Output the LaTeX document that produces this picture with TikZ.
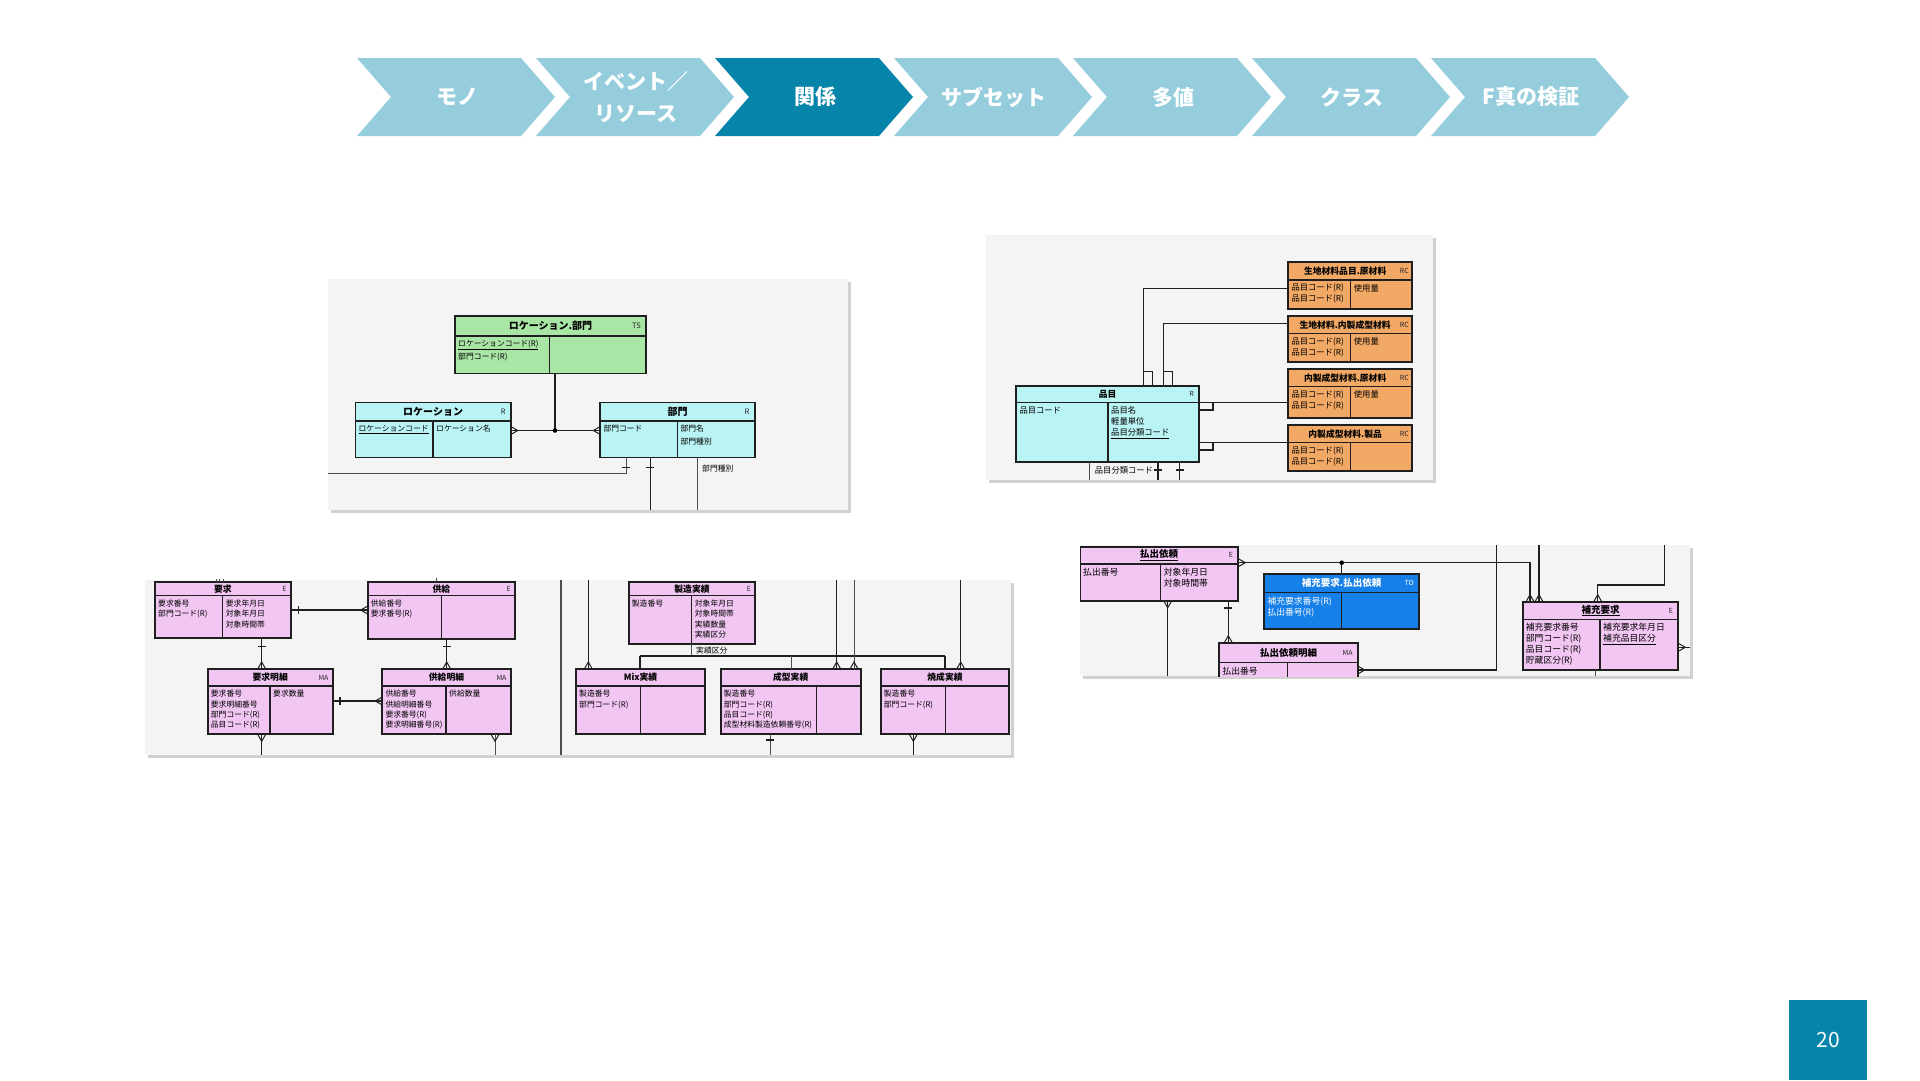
\documentclass[tikz,border=0pt]{standalone}
\usepackage{fontspec}
\setmainfont{Noto Sans CJK JP}

\definecolor{steplight}{HTML}{95CDDD}
\definecolor{stepdark}{HTML}{0784A9}
\definecolor{panelbg}{HTML}{F4F4F4}
\definecolor{entpink}{HTML}{F2C6F2}
\definecolor{entcyan}{HTML}{BAF3F3}
\definecolor{entgreen}{HTML}{A9E5A5}
\definecolor{entorange}{HTML}{F2A966}
\definecolor{entblue}{HTML}{1780E8}

\tikzset{
  steplabel/.style={text=white, align=center, font=\fontsize{21}{32}\selectfont\bfseries},
  entbox/.style={draw=black!88, line width=1.7pt, anchor=north west, inner sep=0pt, outer sep=0pt},
  entsep/.style={black!88, line width=1.1pt},
  enttitle/.style={inner sep=0pt, font=\fontsize{8.8}{9}\selectfont\bfseries},
  enttag/.style={inner sep=0pt, anchor=east, text=black!85, font=\fontsize{7}{8}\selectfont},
  attr/.style={inner sep=0pt, anchor=north west, align=left, font=\fontsize{7.8}{10.3}\selectfont},
  conn/.style={black!88, line width=1.4pt},
  thinconn/.style={black!70, line width=0.7pt},
  crowN/.pic={\draw[black!88, line width=1pt] (-4,0) -- (0,-7) -- (4,0);},
  crowS/.pic={\draw[black!88, line width=1pt] (-4,0) -- (0,7) -- (4,0);},
  crowW/.pic={\draw[black!88, line width=1pt] (0,-4) -- (-7,0) -- (0,4);},
  crowE/.pic={\draw[black!88, line width=1pt] (0,-4) -- (7,0) -- (0,4);},
  tickH/.pic={\draw[black!88, line width=1.2pt] (-4,0) -- (4,0);},
  tickV/.pic={\draw[black!88, line width=1.2pt] (0,-4) -- (0,4);},
}

% entity: name, fill, x, y, width, height, header height, divider offset, title
\newcommand{\ent}[9]{%
  \node[entbox, fill=#2, minimum width=#5, minimum height=#6] (#1) at (#3,#4) {};
  \draw[entsep] ([yshift=-#7]#1.north west) -- ([yshift=-#7]#1.north east);
  \draw[entsep] ([xshift=#8, yshift=-#7]#1.north west) -- ([xshift=#8]#1.south west);
  \node[enttitle] (#1-title) at ([yshift=-#7/2]#1.north) {#9};
  \coordinate (#1-l) at ([xshift=3, yshift=-#7-4]#1.north west);
  \coordinate (#1-r) at ([xshift=#8+3, yshift=-#7-4]#1.north west);
}

\begin{document}
\begin{tikzpicture}[x=1pt,y=-1pt]
  \useasboundingbox (0,0) rectangle (1920,1080);
  \fill[white] (0,0) rectangle (1920,1080);

  % steps
  \foreach \lbl [count=\i from 0] in {モノ, {イベント／\\リソース}, 関係, サブセット, 多値, クラス, F真の検証} {
    \ifnum\i=2 \def\col{stepdark}\else\def\col{steplight}\fi
    \pgfmathsetmacro{\xa}{357+179*\i}
    \fill[\col] (\xa,58) -- ++(164,0) -- ++(34,39) -- ++(-34,39) -- ++(-164,0) -- ++(34,-39) -- cycle;
    \node[steplabel] (chev\i) at (\xa+100,97) {\lbl};
  }

  % panels
  \fill[black!18] (331,282) rectangle (851,513);
  \fill[panelbg] (328,279) rectangle (848,510);
  \fill[black!18] (989,238) rectangle (1436,483);
  \fill[panelbg] (986,235) rectangle (1433,480);
  \fill[black!18] (148,583) rectangle (1014,758);
  \fill[panelbg] (145,580) rectangle (1011,755);
  \fill[black!18] (1083,548) rectangle (1693,679);
  \fill[panelbg] (1080,545) rectangle (1690,676);

  % location / department
  \begin{scope}[enttitle/.append style={font=\fontsize{10}{11}\selectfont\bfseries},
      enttag/.append style={font=\fontsize{7.5}{8}\selectfont},
      attr/.append style={font=\fontsize{7.8}{13}\selectfont}]
    \ent{locbu}{entgreen}{455}{316}{191}{57.5}{20}{94.7}{ロケーション.部門}
    \node[enttag, xshift=-5] (locbu-tag) at (locbu.east |- locbu-title) {TS};
    \node[attr] (locbu-la) at (locbu-l) {\underline{ロケーションコード(R)}\\部門コード(R)};
    \ent{loc}{entcyan}{355.4}{402.4}{155.4}{55}{18.6}{77.6}{ロケーション}
    \node[enttag, xshift=-5] (loc-tag) at (loc.east |- loc-title) {R};
    \node[attr] (loc-la) at (loc-l) {\underline{ロケーションコード}};
    \node[attr] (loc-ra) at (loc-r) {ロケーション名};
    \ent{bumon}{entcyan}{600.3}{402.4}{154.4}{55}{18.6}{77.1}{部門}
    \node[enttag, xshift=-5] (bumon-tag) at (bumon.east |- bumon-title) {R};
    \node[attr] (bumon-la) at (bumon-l) {部門コード};
    \node[attr] (bumon-ra) at (bumon-r) {部門名\\部門種別};

    \coordinate (jA) at (555,430.5);
    \draw[conn] (locbu.south -| jA) -- (jA);
    \draw[conn] (loc.east |- jA) -- (bumon.west |- jA);
    \fill (jA) circle (2.3);
    \pic[line width=1.6pt] at (loc.east |- jA) {crowE};
    \pic at (bumon.west |- jA) {crowW};
    \coordinate (bA1) at (626,473.6);
    \coordinate (eA1) at (328,473.6);
    \draw[thinconn] (bumon.south -| bA1) -- (bA1) -- (eA1);
    \pic at (626,467.6) {tickH};
    \coordinate (bA2) at (650.3,510);
    \draw[conn] (bumon.south -| bA2) -- (bA2);
    \pic at (650.3,467.6) {tickH};
    \coordinate (bA3) at (697,510);
    \draw[thinconn] (bumon.south -| bA3) -- (bA3);
    \node[attr, anchor=west] (bumon-kind) at (702,469) {部門種別};
  \end{scope}

  % items
  \begin{scope}[enttitle/.append style={font=\fontsize{8.8}{9}\selectfont\bfseries},
      attr/.append style={font=\fontsize{8.3}{11}\selectfont}]
    \ent{hinmoku}{entcyan}{1016.3}{386}{182.7}{76.3}{16.7}{91.7}{品目}
    \node[enttag, xshift=-5] (hinmoku-tag) at (hinmoku.east |- hinmoku-title) {R};
    \node[attr] (hinmoku-la) at (hinmoku-l) {品目コード};
    \node[attr] (hinmoku-ra) at (hinmoku-r) {品目名\\軽量単位\\\underline{品目分類コード}};
    \begin{scope}[enttitle/.append style={xshift=-5}]
      \ent{zai1}{entorange}{1288.3}{262.3}{123.7}{46.4}{17.7}{62.4}{生地材料品目.原材料}
      \ent{zai2}{entorange}{1288.3}{316}{123.7}{46.3}{17.3}{62.4}{生地材料.内製成型材料}
      \ent{zai3}{entorange}{1288.3}{369.3}{123.7}{49}{17.4}{62.4}{内製成型材料.原材料}
      \ent{zai4}{entorange}{1288.3}{425}{123.7}{46}{17.3}{62.4}{内製成型材料.製品}
    \end{scope}
    \foreach \z in {zai1, zai2, zai3, zai4} {
      \node[enttag, xshift=-3] (\z-tag) at (\z.east |- \z-title) {RC};
      \node[attr] (\z-la) at (\z-l) {品目コード(R)\\品目コード(R)};
    }
    \node[attr] (zai1-ra) at (zai1-r) {使用量};
    \node[attr] (zai2-ra) at (zai2-r) {使用量};
    \node[attr] (zai3-ra) at (zai3-r) {使用量};

    \coordinate (kB1) at (1143.7,288.3);
    \draw[conn] (zai1.west |- kB1) -- (kB1) -- (kB1 |- hinmoku.north);
    \draw[conn] (1143.7,371.7) -| (1152.3,386);
    \coordinate (kB2) at (1163.7,323.3);
    \draw[conn] (zai2.west |- kB2) -- (kB2) -- (kB2 |- hinmoku.north);
    \draw[conn] (1163.7,371.7) -| (1172.3,386);
    \coordinate (kB3) at (1213,402.7);
    \draw[conn] (hinmoku.east |- kB3) -- (zai3.west |- kB3);
    \draw[conn] (kB3) |- (1199,410);
    \coordinate (kB4) at (1213,442.3);
    \draw[conn] (hinmoku.east |- kB4) -- (zai4.west |- kB4);
    \draw[conn] (kB4) |- (1199,450);
    \coordinate (bB1) at (1089.7,480);
    \draw[thinconn] (hinmoku.south -| bB1) -- (bB1);
    \node[attr, anchor=west] (hinmoku-kind) at (1094.7,470.5) {品目分類コード};
    \coordinate (bB2) at (1158,480);
    \coordinate (bB3) at (1179.7,480);
    \draw[conn] (hinmoku.south -| bB2) -- (bB2);
    \draw[conn] (hinmoku.south -| bB3) -- (bB3);
    \pic at (1158,470) {tickH};
    \pic at (1179.7,470) {tickH};
  \end{scope}

  % request / supply / production
  \ent{youkyu}{entpink}{155}{582.3}{135.7}{56}{13.4}{67.7}{要求}
  \node[enttag, xshift=-4] (youkyu-tag) at (youkyu.east |- youkyu-title) {E};
  \node[attr] (youkyu-la) at (youkyu-l) {要求番号\\部門コード(R)};
  \node[attr] (youkyu-ra) at (youkyu-r) {要求年月日\\対象年月日\\対象時間帯};
  \ent{kyoukyu}{entpink}{367.7}{582.3}{147.3}{56.7}{13.4}{74}{供給}
  \node[enttag, xshift=-4] (kyoukyu-tag) at (kyoukyu.east |- kyoukyu-title) {E};
  \node[attr] (kyoukyu-la) at (kyoukyu-l) {供給番号\\要求番号(R)};
  \ent{ymei}{entpink}{207.7}{669}{125}{65.3}{17}{62.3}{要求明細}
  \node[enttag, xshift=-4] (ymei-tag) at (ymei.east |- ymei-title) {MA};
  \node[attr] (ymei-la) at (ymei-l) {要求番号\\要求明細番号\\部門コード(R)\\品目コード(R)};
  \node[attr] (ymei-ra) at (ymei-r) {要求数量};
  \ent{kmei}{entpink}{382.3}{669}{128.4}{65.3}{17}{63.7}{供給明細}
  \node[enttag, xshift=-4] (kmei-tag) at (kmei.east |- kmei-title) {MA};
  \node[attr] (kmei-la) at (kmei-l) {供給番号\\供給明細番号\\要求番号(R)\\要求明細番号(R)};
  \node[attr] (kmei-ra) at (kmei-r) {供給数量};
  \ent{seizou}{entpink}{628.7}{582.3}{126.6}{61.7}{13.4}{63}{製造実績}
  \node[enttag, xshift=-4] (seizou-tag) at (seizou.east |- seizou-title) {E};
  \node[attr] (seizou-la) at (seizou-l) {製造番号};
  \node[attr] (seizou-ra) at (seizou-r) {対象年月日\\対象時間帯\\実績数量\\実績区分};
  \ent{mix}{entpink}{576}{669}{129}{65.3}{17}{64.7}{Mix実績}
  \node[attr] (mix-la) at (mix-l) {製造番号\\部門コード(R)};
  \ent{seikei}{entpink}{720.7}{669}{140}{65.3}{17}{96}{成型実績}
  \node[attr] (seikei-la) at (seikei-l) {製造番号\\部門コード(R)\\品目コード(R)\\成型材料製造依頼番号(R)};
  \ent{shousei}{entpink}{880.7}{669}{128.6}{65.3}{17}{65}{焼成実績}
  \node[attr] (shousei-la) at (shousei-l) {製造番号\\部門コード(R)};

  \draw[thinconn] (216,579) -- (216,582.3) (219.5,579) -- (219.5,582.3) (223,579) -- (223,582.3);
  \draw[thinconn] (436.7,578) -- (436.7,582.3);
  \coordinate (kC1) at (298.3,610);
  \draw[conn] (youkyu.east |- kC1) -- (kyoukyu.west |- kC1);
  \pic at (kC1) {tickV};
  \pic at (kyoukyu.west |- kC1) {crowW};
  \coordinate (kC2) at (261.7,646.7);
  \draw[conn] (youkyu.south -| kC2) -- (ymei.north -| kC2);
  \pic at (kC2) {tickH};
  \pic at (ymei.north -| kC2) {crowN};
  \coordinate (kC3) at (446.7,646.7);
  \draw[conn] (kyoukyu.south -| kC3) -- (kmei.north -| kC3);
  \pic at (kC3) {tickH};
  \pic at (kmei.north -| kC3) {crowN};
  \coordinate (kC4) at (340,701);
  \draw[conn] (ymei.east |- kC4) -- (kmei.west |- kC4);
  \pic at (kC4) {tickV};
  \pic at (kmei.west |- kC4) {crowW};
  \coordinate (bC1) at (261.7,755);
  \draw[conn] (ymei.south -| bC1) -- (bC1);
  \pic at (ymei.south -| bC1) {crowS};
  \coordinate (bC2) at (495,755);
  \draw[thinconn] (kmei.south -| bC2) -- (bC2);
  \pic at (kmei.south -| bC2) {crowS};
  \draw[black!70, line width=1.6pt] (560.7,580) -- (560.7,755);

  \coordinate (tC1) at (588.3,580);
  \draw[conn] (tC1) -- (mix.north -| tC1);
  \pic at (mix.north -| tC1) {crowN};
  \coordinate (sC) at (691.7,656);
  \coordinate (sC1) at (640,656);
  \coordinate (sC2) at (791,656);
  \coordinate (sC3) at (945,656);
  \draw[thinconn] (seizou.south -| sC) -- (sC);
  \node[attr, anchor=west] (seizou-kind) at (696,650.5) {実績区分};
  \draw[conn] (sC1) -- (sC3);
  \draw[conn] (sC1) -- (mix.north -| sC1);
  \draw[thinconn] (sC2) -- (seikei.north -| sC2);
  \draw[conn] (sC3) -- (shousei.north -| sC3);
  \coordinate (tC2) at (836.7,580);
  \coordinate (tC3) at (854,580);
  \coordinate (tC4) at (960.7,580);
  \draw[conn] (tC2) -- (seikei.north -| tC2);
  \draw[thinconn] (tC3) -- (seikei.north -| tC3);
  \draw[conn] (tC4) -- (shousei.north -| tC4);
  \pic at (seikei.north -| tC2) {crowN};
  \pic at (seikei.north -| tC3) {crowN};
  \pic at (shousei.north -| tC4) {crowN};
  \coordinate (bC3) at (770,755);
  \draw[thinconn] (seikei.south -| bC3) -- (bC3);
  \pic at (770,740) {tickH};
  \coordinate (bC4) at (913.3,755);
  \draw[conn] (shousei.south -| bC4) -- (bC4);
  \pic at (shousei.south -| bC4) {crowS};

  % payout / replenishment
  \begin{scope}[enttitle/.append style={font=\fontsize{9.5}{10}\selectfont\bfseries},
      attr/.append style={font=\fontsize{8.8}{11}\selectfont}]
    \clip (1080,545) rectangle (1690,676);
    \ent{haraidashi}{entpink}{1080}{546.7}{158.3}{54}{17.3}{80.7}{\underline{払出依頼}}
    \node[enttag, xshift=-5] (haraidashi-tag) at (haraidashi.east |- haraidashi-title) {E};
    \node[attr] (haraidashi-la) at (haraidashi-l) {払出番号};
    \node[attr] (haraidashi-ra) at (haraidashi-r) {対象年月日\\対象時間帯};
    \ent{hojuhara}{entblue}{1264.3}{574}{154.7}{55.3}{18.7}{77.4}{\textcolor{white}{補充要求.払出依頼}}
    \node[enttag, xshift=-5, text=white] (hojuhara-tag) at (hojuhara.east |- hojuhara-title) {TO};
    \node[attr, text=white] (hojuhara-la) at (hojuhara-l) {補充要求番号(R)\\払出番号(R)};
    \ent{haramei}{entpink}{1219.3}{642.7}{138.4}{45}{20}{68}{払出依頼明細}
    \node[enttag, xshift=-5] (haramei-tag) at (haramei.east |- haramei-title) {MA};
    \node[attr] (haramei-la) at (haramei-l) {払出番号};
    \ent{hojuu}{entpink}{1522.7}{601.7}{155.6}{68.3}{17.6}{77.3}{\underline{補充要求}}
    \node[enttag, xshift=-5] (hojuu-tag) at (hojuu.east |- hojuu-title) {E};
    \node[attr] (hojuu-la) at (hojuu-l) {補充要求番号\\部門コード(R)\\品目コード(R)\\貯蔵区分(R)};
    \node[attr] (hojuu-ra) at (hojuu-r) {補充要求年月日\\\underline{補充品目区分}};

    \coordinate (kD1) at (1530,562.7);
    \draw[conn] (haraidashi.east |- kD1) -- (kD1) -- (kD1 |- hojuu.north);
    \pic at (haraidashi.east |- kD1) {crowE};
    \pic at (kD1 |- hojuu.north) {crowN};
    \coordinate (jD) at (1341.7,562.7);
    \draw[conn] (jD) -- (hojuhara.north -| jD);
    \fill (jD) circle (2.3);
    \coordinate (tD1) at (1539,545);
    \draw[conn] (tD1) -- (hojuu.north -| tD1);
    \pic at (hojuu.north -| tD1) {crowN};
    \coordinate (tD2) at (1664.3,545);
    \coordinate (kD2) at (1597.7,585);
    \draw[conn] (tD2) |- (kD2) -- (kD2 |- hojuu.north);
    \pic at (kD2 |- hojuu.north) {crowN};
    \coordinate (tD3) at (1496.7,545);
    \coordinate (kD3) at (1496.7,670);
    \draw[conn] (tD3) -- (kD3) -- (haramei.east |- kD3);
    \pic at (haramei.east |- kD3) {crowE};
    \coordinate (bD1) at (1167.7,676);
    \draw[conn] (haraidashi.south -| bD1) -- (bD1);
    \pic at (haraidashi.south -| bD1) {crowS};
    \coordinate (kD4) at (1228.3,608);
    \draw[conn] (haraidashi.south -| kD4) -- (haramei.north -| kD4);
    \pic at (kD4) {tickH};
    \pic at (haramei.north -| kD4) {crowN};
    \coordinate (eD1) at (1690,647.3);
    \draw[conn] (hojuu.east |- eD1) -- (eD1);
    \pic at (hojuu.east |- eD1) {crowE};
    \coordinate (bD2) at (1595,676);
    \draw[thinconn] (hojuu.south -| bD2) -- (bD2);
  \end{scope}

  % page number
  \node[fill=stepdark, text=white, minimum width=78, minimum height=80, anchor=north west,
    font=\fontsize{21}{24}\selectfont] (pagenum) at (1789,1000) {20};
\end{tikzpicture}
\end{document}
